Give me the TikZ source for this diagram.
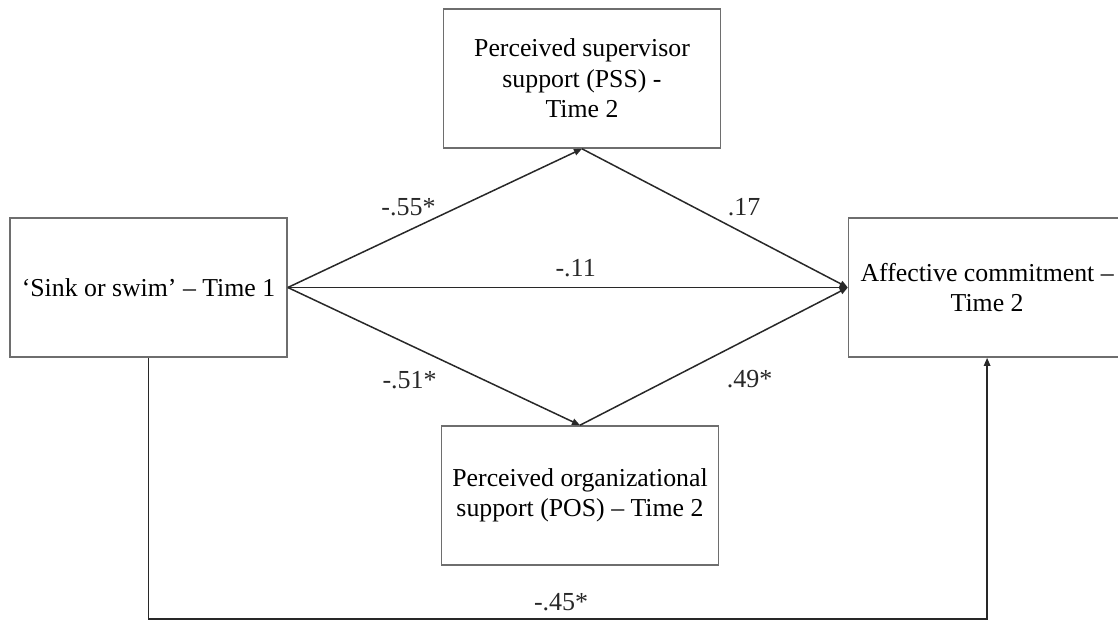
\documentclass[tikz,border=0pt]{standalone}
\usepackage{fontspec}
\setmainfont{Liberation Serif}
\usepackage{tikz}
\usetikzlibrary{
  positioning,
  arrows.meta
}
\definecolor{BoxGray}{RGB}{110,110,110}
\definecolor{LineDark}{RGB}{40,40,40}

\begin{document}
\begin{tikzpicture}[
  x=0.5pt, y=-0.5pt,
  font=\fontsize{12.9}{15.25}\selectfont,
  >={Triangle[length=4pt,width=3.2pt]},
  box/.style={
    draw=BoxGray,
    line width=0.8pt,
    align=center,
    inner sep=2pt,
    minimum width=138.5pt,
    minimum height=69.5pt,
  },
  arr/.style={->, line width=0.75pt, LineDark},
  wlab/.style={inner sep=0pt, font=\fontsize{13}{15.25}\selectfont},
]
  \useasboundingbox (0,0) rectangle (1118,620);

  \node[box] (sink) at (148.5,287.5) {`Sink or swim' -- Time 1};
  \node[box, right=280pt of sink] (ac) {Affective commitment --\\Time 2};
  \node[box] (pss) at (582,78.5) {%
    Perceived supervisor\\support (PSS) -\\Time 2};
  \node[box] (pos) at (580,495.5) {%
    Perceived organizational\\support (POS) -- Time 2};

  % paths and weights
  \draw[arr] (sink.east) -- (pss.south)
    node[wlab, pos=0.41, above=7pt] {-.55*};
  \draw[arr] (pss.south) -- (ac.west)
    node[wlab, pos=0.61, above=8.5pt] {.17};
  \draw[arr] (sink.east) -- (ac.west)
    node[wlab, pos=0.514, above=5pt] {-.11};
  \draw[arr] (sink.east) -- (pos.north)
    node[wlab, pos=0.417, below=13pt] {-.51*};
  \draw[arr] (pos.north) -- (ac.west)
    node[wlab, pos=0.633, below=15.5pt] {.49*};
  \draw[arr] (sink.south) -- ++(0,261) -|
    node[wlab, pos=0.246, above=3.75pt] {-.45*} (ac.south);
\end{tikzpicture}
\end{document}
